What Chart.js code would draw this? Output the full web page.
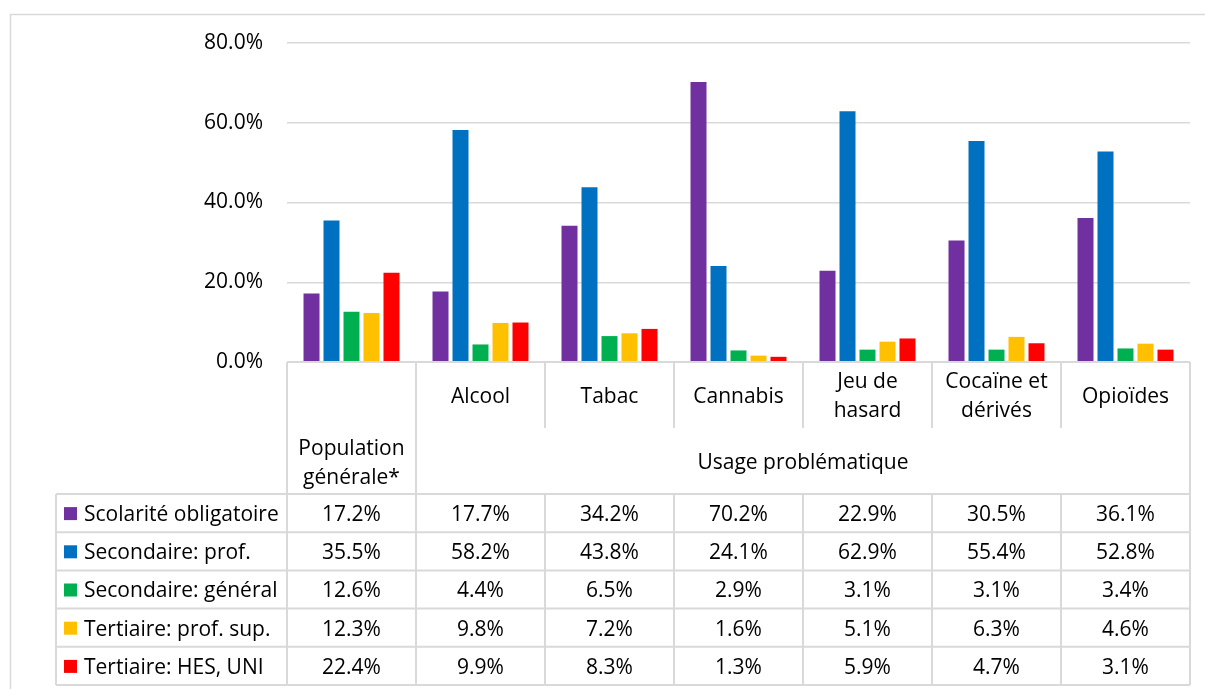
<!DOCTYPE html>
<html lang="fr">
<head>
<meta charset="utf-8">
<title>Niveau de formation – usage problématique</title>
<script src="https://cdn.jsdelivr.net/npm/chart.js@4/dist/chart.umd.min.js"></script>
<style>
  html, body { margin: 0; padding: 0; background: #fff; }
  #wrap { position: relative; width: 1205px; height: 689px; }
</style>
</head>
<body>
<div id="wrap"><canvas id="chart"></canvas></div>
<script>
// Categories (multi-line labels as arrays)
const categories = [
  ["Population", "générale*"],
  ["Alcool"],
  ["Tabac"],
  ["Cannabis"],
  ["Jeu de", "hasard"],
  ["Cocaïne et", "dérivés"],
  ["Opioïdes"]
];
const groupLabel = "Usage problématique";

// Series (percent)
const seriesNames = [
  "Scolarité obligatoire",
  "Secondaire: prof.",
  "Secondaire: général",
  "Tertiaire: prof. sup.",
  "Tertiaire: HES, UNI"
];
const scolarite   = [17.2, 17.7, 34.2, 70.2, 22.9, 30.5, 36.1];
const secProf     = [35.5, 58.2, 43.8, 24.1, 62.9, 55.4, 52.8];
const secGeneral  = [12.6, 4.4, 6.5, 2.9, 3.1, 3.1, 3.4];
const tertProfSup = [12.3, 9.8, 7.2, 1.6, 5.1, 6.3, 4.6];
const tertHesUni  = [22.4, 9.9, 8.3, 1.3, 5.9, 4.7, 3.1];

const yTicks = [0, 20, 40, 60, 80];

const colors = ["#7030A0", "#0070C0", "#00B050", "#FFC000", "#FF0000"];
const seriesValues = [scolarite, secProf, secGeneral, tertProfSup, tertHesUni];

const FONT = "'Open Sans', sans-serif";
const FONT_SIZE = 21;
const LINE = "#d9d9d9";
const TEXT = "#000000";

const fmt = v => v.toFixed(1) + "%";

// Data table drawn under the plot, aligned on the category scale
const dataTable = {
  id: "dataTable",
  afterDraw(chart) {
    const ctx = chart.ctx;
    const x = chart.scales.x;
    const area = chart.chartArea;
    const n = categories.length;
    const colW = (area.right - area.left) / n;
    const left = area.left, right = area.right;
    const top = area.bottom;
    const catBottom = top + 66;
    const headBottom = top + 132;
    const rowH = 38.2;
    const tableLeft = 56;
    const rows = seriesNames.length;
    const tableBottom = headBottom + rows * rowH;
    const dy = 2; // optical centring of the glyphs

    ctx.save();
    // outer chart frame
    ctx.strokeStyle = LINE;
    ctx.lineWidth = 1.5;
    ctx.strokeRect(10.5, 14.5, 1220, 700);

    ctx.strokeStyle = LINE;
    ctx.lineWidth = 2;
    ctx.beginPath();
    // header top line (axis line)
    ctx.moveTo(left, top); ctx.lineTo(right, top);
    // verticals in header
    ctx.moveTo(left, top); ctx.lineTo(left, tableBottom);
    ctx.moveTo(left + colW, top); ctx.lineTo(left + colW, tableBottom);
    for (let i = 2; i < n; i++) {
      const xx = left + colW * i;
      ctx.moveTo(xx, top); ctx.lineTo(xx, catBottom);
      ctx.moveTo(xx, headBottom); ctx.lineTo(xx, tableBottom);
    }
    ctx.moveTo(right, top); ctx.lineTo(right, tableBottom);
    // data rows
    for (let r = 0; r <= rows; r++) {
      const yy = headBottom + r * rowH;
      ctx.moveTo(tableLeft, yy); ctx.lineTo(right, yy);
    }
    ctx.moveTo(tableLeft, headBottom); ctx.lineTo(tableLeft, tableBottom);
    ctx.stroke();

    ctx.fillStyle = TEXT;
    ctx.font = FONT_SIZE + "px " + FONT;
    ctx.textAlign = "center";
    ctx.textBaseline = "middle";
    const lh = 29;
    // category labels
    for (let i = 1; i < n; i++) {
      const cx = x.getPixelForValue(i);
      const lines = categories[i];
      const cy = (top + catBottom) / 2 - (lines.length - 1) * lh / 2 + dy;
      lines.forEach((t, k) => ctx.fillText(t, cx, cy + k * lh));
    }
    // first category sits at the bottom of the merged header cell
    const c0 = x.getPixelForValue(0);
    categories[0].forEach((t, k) => ctx.fillText(t, c0, top + 85 + dy + k * lh));
    // group label
    ctx.fillText(groupLabel, (left + colW + right) / 2, (catBottom + headBottom) / 2 + dy);

    // series rows
    for (let r = 0; r < rows; r++) {
      const cy = headBottom + r * rowH + rowH / 2;
      ctx.fillStyle = colors[r];
      ctx.fillRect(64, cy - 6, 13, 13);
      ctx.fillStyle = TEXT;
      ctx.textAlign = "left";
      ctx.fillText(seriesNames[r], 84, cy + dy);
      ctx.textAlign = "center";
      seriesValues[r].forEach((v, i) => ctx.fillText(fmt(v), x.getPixelForValue(i), cy + dy));
    }
    ctx.restore();
  }
};

new Chart(document.getElementById("chart"), {
  type: "bar",
  data: {
    labels: categories.map(c => c.join(" ")),
    datasets: seriesNames.map((name, i) => ({
      label: name,
      data: seriesValues[i],
      backgroundColor: colors[i],
      borderWidth: 0,
      categoryPercentage: 0.775,
      barPercentage: 0.8
    }))
  },
  options: {
    responsive: true,
    maintainAspectRatio: false,
    animation: false,
    devicePixelRatio: 1,
    layout: { padding: { left: 10, right: 15, top: 43, bottom: 327 } },
    plugins: { legend: { display: false }, tooltip: { enabled: false } },
    scales: {
      x: { display: false },
      y: {
        min: 0, max: 80,
        afterBuildTicks: s => { s.ticks = yTicks.map(v => ({ value: v })); },
        afterFit: s => { s.width = 277; },
        border: { display: false },
        grid: { color: LINE, lineWidth: 1.5, drawTicks: false },
        ticks: {
          padding: 24,
          color: TEXT,
          font: { family: FONT, size: FONT_SIZE },
          callback: v => v.toFixed(1) + "%"
        }
      }
    }
  },
  plugins: [dataTable]
});
</script>
</body>
</html>
